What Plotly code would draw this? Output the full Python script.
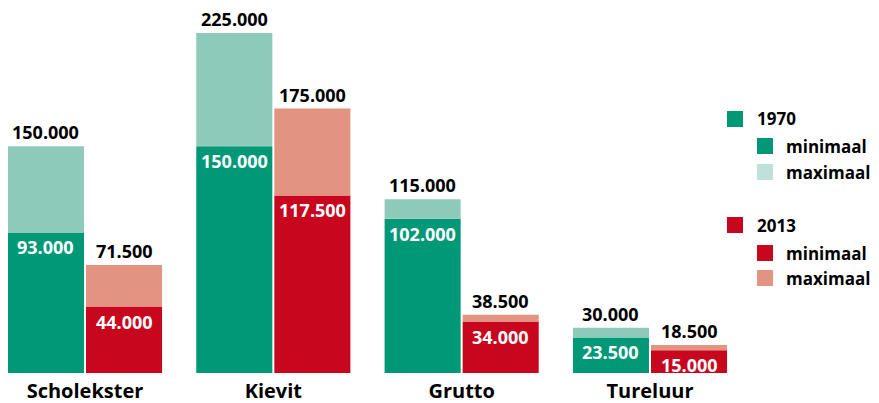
import plotly.graph_objects as go

species = ["Scholekster", "Kievit", "Grutto", "Tureluur"]
min_1970 = [93000, 150000, 102000, 23500]
max_1970 = [150000, 225000, 115000, 30000]
min_2013 = [44000, 117500, 34000, 15000]
max_2013 = [71500, 175000, 38500, 18500]

G_MIN = "#009877"
G_MAX = "#8ecab9"
G_MAX_LEG = "#bee1dc"
R_MIN = "#c8071e"
R_MAX = "#e29480"

FONT = "Open Sans"
OFF = 8  # page body margin
W, H = 879 - OFF, 403 - OFF
ML, MR, MT, MB = 0, 0, 0, 30
PH = H - MT - MB  # plot height in px
BARGAP = 0.171
BARGROUPGAP = 0.0256

diff_1970 = [a - b for a, b in zip(max_1970, min_1970)]
diff_2013 = [a - b for a, b in zip(max_2013, min_2013)]


def fmt(v):
    return f"{v:,.0f}".replace(",", ".")


fig = go.Figure()
for grp, mn, df, cmin, cmax in [
    ("1970", min_1970, diff_1970, G_MIN, G_MAX),
    ("2013", min_2013, diff_2013, R_MIN, R_MAX),
]:
    fig.add_trace(go.Bar(
        x=species, y=mn, offsetgroup=grp, name=f"{grp} minimaal",
        marker=dict(color=cmin, line=dict(width=0)),
        showlegend=False, hoverinfo="skip",
    ))
    fig.add_trace(go.Bar(
        x=species, y=df, base=mn, offsetgroup=grp, name=f"{grp} maximaal",
        marker=dict(color=cmax, line=dict(width=0)),
        showlegend=False, hoverinfo="skip",
    ))

# scale: 225000 -> 340 px
px_per_unit = (373 - 33) / 225000
ymax = PH / px_per_unit
cat_px = 188.33
x0 = -(85 - OFF - ML) / cat_px
x1 = x0 + (W - ML - MR) / cat_px

shapes = []
annotations = []

# value labels, placed at bar centres of each offset group
half = (1 - BARGAP) / 4
for sign, mn, mx in [(-1, min_1970, max_1970), (1, min_2013, max_2013)]:
    for i, sp in enumerate(species):
        annotations.append(dict(
            x=i + sign * half, y=mx[i], xref="x", yref="y", text=fmt(mx[i]),
            showarrow=False, xanchor="center", yanchor="bottom", yshift=0,
            font=dict(family=FONT, size=18, color="black", weight="bold")))
        annotations.append(dict(
            x=i + sign * half, y=mn[i], xref="x", yref="y", text=fmt(mn[i]),
            showarrow=False, xanchor="center", yanchor="top", yshift=-1,
            font=dict(family=FONT, size=18, color="white", weight="bold")))


def px_x(px):
    return (px - OFF - ML) / (W - ML - MR)


def px_y(py):
    return (MT + PH - (py - OFF)) / PH


legend_items = [
    # (square x, square top y, size, color, text, text x)
    (727, 111, 16, G_MIN, "1970", 757),
    (757, 138, 16, G_MIN, "minimaal", 786),
    (757, 164, 16, G_MAX_LEG, "maximaal", 786),
    (727, 217, 16, R_MIN, "2013", 757),
    (757, 245, 16, R_MIN, "minimaal", 786),
    (757, 270, 16, R_MAX, "maximaal", 786),
]
for sx, sy, s, col, txt, tx in legend_items:
    shapes.append(dict(type="rect", xref="paper", yref="paper",
                       x0=px_x(sx), x1=px_x(sx + s), y0=px_y(sy + s), y1=px_y(sy),
                       fillcolor=col, line=dict(width=0)))
    annotations.append(dict(xref="paper", yref="paper", x=px_x(tx), y=px_y(sy + s / 2),
                            text=txt, showarrow=False, xanchor="left", yanchor="middle",
                            xshift=-2,
                            font=dict(family=FONT, size=17, color="black", weight="bold")))

fig.update_layout(
    width=W, height=H,
    margin=dict(l=ML, r=MR, t=MT, b=MB, pad=0),
    barmode="group", bargap=BARGAP, bargroupgap=BARGROUPGAP,
    plot_bgcolor="white", paper_bgcolor="white",
    xaxis=dict(range=[x0, x1], showgrid=False, zeroline=False, showline=False,
               ticks="", ticklabelstandoff=4,
               tickfont=dict(family=FONT, size=20, color="black", weight="bold")),
    yaxis=dict(range=[0, ymax], visible=False, showgrid=False, zeroline=False),
    shapes=shapes, annotations=annotations,
    showlegend=False,
)

fig.write_html("out.html")
